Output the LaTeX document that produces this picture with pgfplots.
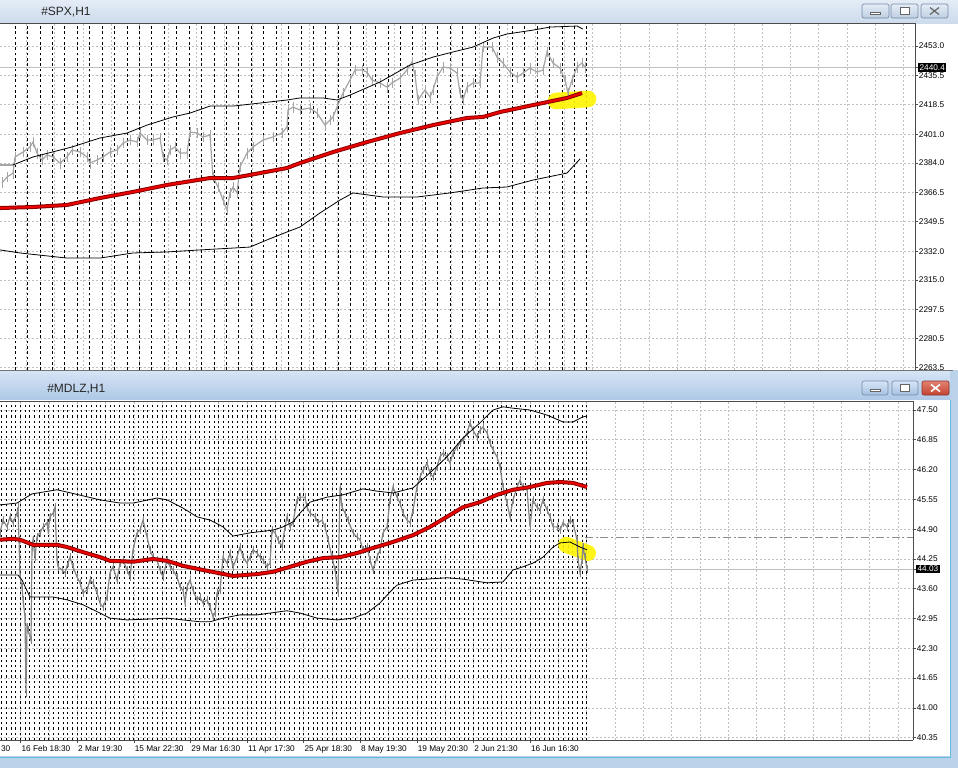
\documentclass[border=0pt]{standalone}
\usepackage{pgfplots}
\pgfplotsset{compat=1.18}
\usepackage{pgfplotstable}
\usepackage{fontspec}
\setmainfont{Liberation Sans}

\definecolor{gridgray}{RGB}{192,192,192}
\definecolor{priceA}{RGB}{165,165,165}
\definecolor{priceB}{RGB}{132,132,132}
\definecolor{maDark}{RGB}{140,0,0}
\definecolor{maRed}{RGB}{235,0,0}
\definecolor{hl}{RGB}{255,244,0}
\definecolor{topA}{RGB}{228,236,246}
\definecolor{topB}{RGB}{205,219,236}
\definecolor{topBtn}{RGB}{190,206,226}
\definecolor{botA}{RGB}{214,228,245}
\definecolor{botB}{RGB}{174,200,231}
\definecolor{botBtnA}{RGB}{215,229,245}
\definecolor{botBtnB}{RGB}{165,193,226}
\definecolor{frameBlue}{RGB}{187,210,235}
\definecolor{frameCyan}{RGB}{100,185,225}
\definecolor{btnEdge}{RGB}{118,138,166}
\definecolor{closeA}{RGB}{226,130,112}
\definecolor{closeB}{RGB}{196,68,50}
\definecolor{closeEdge}{RGB}{140,50,40}

% ---------------- #SPX data (price, bands, moving average) ----------------
\pgfplotstableread{
x y
2 2372.3
7 2375.8
13 2378.1
15 2387.6
23 2390.5
30 2393.5
33 2396.4
37 2389.9
42 2385.8
47 2388.8
53 2387.6
60 2384.0
67 2387.6
72 2391.7
80 2390.5
87 2387.6
90 2384.0
97 2385.8
103 2387.6
110 2390.5
117 2391.7
123 2395.8
130 2397.6
137 2396.4
140 2401.7
147 2397.6
153 2397.6
160 2398.8
163 2387.6
167 2385.8
170 2391.7
175 2393.5
180 2389.9
187 2389.9
190 2402.3
197 2401.7
203 2399.4
210 2400.5
213 2375.8
218 2369.9
223 2362.2
227 2356.3
230 2366.4
233 2369.9
237 2366.4
240 2381.7
247 2389.9
253 2393.5
263 2397.6
273 2399.4
282 2401.7
287 2405.3
288 2415.3
293 2417.0
300 2415.3
310 2416.5
317 2413.5
325 2406.4
330 2409.4
333 2411.2
337 2417.0
343 2425.3
350 2433.0
355 2438.9
362 2438.9
367 2437.7
372 2433.0
380 2431.2
387 2428.8
392 2431.2
400 2434.1
407 2438.9
412 2443.6
415 2435.9
418 2421.2
425 2427.1
430 2422.9
433 2427.1
437 2434.7
443 2440.6
450 2440.0
457 2437.1
460 2425.3
463 2421.2
467 2428.8
473 2431.2
480 2431.2
483 2452.4
492 2452.4
497 2446.5
503 2443.0
510 2437.7
517 2434.7
523 2437.1
530 2440.0
537 2437.7
543 2438.9
547 2449.5
553 2443.0
560 2440.0
565 2433.0
568 2425.3
572 2433.0
577 2440.6
582 2443.0
585 2440.4
}\spxprice

\pgfplotstableread{
x y
0 2382.9
13 2382.9
33 2387.6
72 2393.5
100 2398.8
127 2401.7
147 2406.4
173 2411.2
190 2413.5
210 2417.6
233 2417.6
287 2421.2
300 2422.4
323 2422.4
337 2421.2
350 2424.1
380 2431.8
410 2441.8
433 2446.5
453 2449.5
473 2452.4
493 2457.7
507 2460.1
533 2462.4
550 2464.2
577 2464.8
583 2463.0
}\spxupper

\pgfplotstableread{
x y
0 2357.5
33 2358.1
67 2359.3
100 2363.4
133 2367.0
167 2371.1
210 2375.2
233 2375.2
250 2377.0
287 2381.1
300 2384.0
333 2390.5
367 2396.4
400 2401.7
433 2406.4
467 2410.6
483 2411.2
500 2414.1
533 2418.2
567 2422.4
582 2425.3
}\spxma

\pgfplotstableread{
x y
0 2332.8
20 2331.0
67 2328.0
100 2328.0
133 2331.0
167 2331.6
200 2332.8
233 2333.9
250 2334.5
267 2338.7
287 2343.4
300 2346.3
320 2354.6
340 2362.2
353 2366.4
383 2364.0
417 2364.0
450 2366.4
483 2369.3
507 2369.9
533 2374.0
567 2378.1
580 2386.4
}\spxlower

% ---------------- #MDLZ data ----------------
\pgfplotstableread{
x y
0 44.82
3 45.10
7 44.95
10 45.17
13 45.04
17 45.25
18 45.38
19 44.67
20 43.86
22 43.64
23 43.36
25 42.99
26 41.33
27 42.77
28 42.70
31 42.48
32 44.51
33 44.67
35 44.29
37 44.73
40 44.82
43 44.95
47 45.04
48 44.88
50 45.17
53 45.25
55 45.38
57 44.23
58 44.08
62 44.01
65 43.95
68 44.16
70 44.29
73 44.08
77 43.86
80 43.73
83 43.51
87 43.57
90 43.79
93 43.73
97 43.51
100 43.29
103 43.20
107 43.42
110 43.95
113 44.08
117 43.79
120 44.16
123 44.23
127 44.01
130 43.86
133 44.45
137 44.82
140 44.88
143 45.10
147 44.73
150 44.45
153 44.29
157 44.23
160 44.01
163 43.86
167 44.23
170 44.08
173 44.01
177 43.86
180 43.64
183 43.57
185 43.29
187 43.64
190 43.79
193 43.57
197 43.36
200 43.42
203 43.29
207 43.36
210 43.20
213 42.99
215 43.07
217 43.51
220 43.57
223 44.29
227 44.16
230 44.38
233 44.08
237 44.29
240 44.51
243 44.29
247 44.16
250 44.29
253 44.45
257 44.38
260 44.29
263 44.23
267 44.08
270 44.16
272 44.88
275 44.82
278 44.67
282 44.51
285 44.95
287 45.17
290 44.95
293 45.04
297 45.54
300 45.60
305 45.60
307 45.38
310 45.25
315 45.17
318 45.04
322 45.10
325 44.95
328 44.67
332 44.29
335 44.01
338 43.51
340 45.82
342 45.38
345 45.25
348 45.10
353 44.82
357 44.73
360 44.67
363 44.45
367 44.51
370 44.23
373 44.01
377 44.29
380 44.45
383 44.82
387 44.95
390 45.54
393 45.82
397 45.60
400 45.47
403 45.25
407 45.10
410 45.04
413 45.32
417 45.82
420 46.04
423 46.19
427 46.34
430 46.13
433 46.04
437 46.26
440 46.48
443 46.56
447 46.48
450 46.34
453 46.56
457 46.69
460 46.78
463 46.85
467 47.00
470 47.22
473 47.06
477 46.91
480 47.06
483 47.13
487 47.00
490 46.78
493 46.63
497 46.48
500 46.26
503 45.82
507 45.47
510 45.17
513 45.54
517 45.82
520 45.97
523 45.82
527 45.76
530 44.95
533 45.54
537 45.38
540 45.32
543 45.54
547 45.32
550 45.17
553 44.95
557 44.95
560 44.88
563 45.04
567 44.95
570 45.10
573 45.04
577 44.67
578 44.23
580 43.95
582 44.23
583 44.51
585 44.29
587 44.03
}\mdlzprice

\pgfplotstableread{
x y
0 45.43
17 45.47
32 45.67
57 45.76
67 45.71
100 45.54
120 45.47
133 45.47
157 45.58
167 45.54
183 45.36
197 45.17
210 45.10
223 44.95
233 44.75
250 44.82
273 44.88
283 44.95
293 45.06
300 45.25
310 45.49
327 45.60
343 45.65
363 45.78
377 45.73
393 45.69
413 45.80
430 46.13
447 46.48
463 46.89
480 47.22
493 47.50
503 47.57
513 47.54
530 47.50
547 47.39
563 47.24
573 47.24
583 47.35
587 47.37
}\mdlzupper

\pgfplotstableread{
x y
0 44.67
13 44.69
20 44.67
33 44.56
57 44.56
67 44.51
83 44.40
100 44.29
110 44.21
133 44.19
153 44.25
167 44.21
183 44.10
203 44.01
217 43.95
233 43.88
257 43.92
273 43.97
290 44.08
307 44.19
323 44.27
340 44.29
357 44.38
373 44.49
390 44.60
413 44.77
430 44.95
447 45.17
463 45.38
480 45.49
497 45.65
513 45.76
530 45.82
547 45.91
560 45.93
573 45.91
587 45.82
}\mdlzma

\pgfplotstableread{
x y
0 43.90
18 43.90
22 43.79
30 43.42
53 43.42
67 43.36
83 43.25
100 43.07
110 42.96
127 42.92
150 42.94
167 42.96
183 42.92
200 42.88
210 42.88
223 42.96
240 43.03
257 43.03
270 43.07
287 43.12
300 43.07
317 42.96
337 42.92
353 42.96
367 43.07
380 43.29
390 43.53
397 43.68
413 43.79
447 43.84
463 43.81
487 43.73
503 43.75
513 44.01
523 44.08
533 44.16
543 44.29
553 44.51
560 44.60
570 44.62
580 44.51
587 44.45
}\mdlzlower

\pgfplotsset{
  mtchart/.style={
    scale only axis, anchor=north west, xmin=0,
    axis x line*=bottom, axis y line*=right,
    axis line style={-, black!70, line width=0.6pt},
    grid=major,
    major grid style={gridgray, dash pattern=on 1.5pt off 1.5pt, line width=0.5pt},
    minor grid style={gridgray, dash pattern=on 1.5pt off 1.5pt, line width=0.5pt},
    tick align=outside, major tick length=2.25pt, minor tick length=0pt,
    tick style={black!70, line width=0.5pt},
    ticklabel style={font=\fontsize{6.2}{7}\selectfont, text=black},
    yticklabel style={anchor=west, inner sep=0.5pt},
    extra x tick labels={},
    extra x tick style={major tick length=0pt,
      major grid style={black, dash pattern=on 2pt off 2pt, line width=0.5pt}},
    extra y tick style={
      major grid style={black!25, solid, line width=0.5pt},
      yticklabel style={fill=black, text=white, inner sep=1pt}},
  },
  bandline/.style={black, line width=0.6pt},
}

\begin{document}
\begin{tikzpicture}
\path[use as bounding box] (0,0) rectangle (718.5pt,-576pt);
\fill[white] (0,0) rectangle (718.5pt,-576pt);

% ================= top window: #SPX,H1 =================
\begin{axis}[mtchart,
  at={(0pt,-18pt)}, width=686.25pt, height=259.5pt,
  xmax=915, ymin=2262, ymax=2466,
  xtick={26.4,54.7,...,915}, xticklabels={}, major x tick style={draw=none},
  ytick={2263.5,2280.5,2297.5,2315.0,2332.0,2349.5,2366.5,2384.0,2401.0,2418.5,2435.5,2453.0},
  yticklabels={2263.5,2280.5,2297.5,2315.0,2332.0,2349.5,2366.5,2384.0,2401.0,2418.5,2435.5,2453.0},
  extra x ticks={15,27.43,...,586},
  extra y ticks={2440.4}, extra y tick labels={2440.4},
]
\addplot[hl, opacity=0.9, line width=12.5pt, line cap=round] coordinates {(556,2420.6) (588,2421.8)};
\addplot[priceA, line width=0.9pt, error bars/.cd, y dir=both, y fixed=3.2,
  error mark=none, error bar style={priceA, line width=0.7pt}] table {\spxprice};
\addplot[bandline] table {\spxupper};
\addplot[bandline] table {\spxlower};
\addplot[maDark, line width=3pt] table {\spxma};
\addplot[maRed, line width=1.5pt] table {\spxma};
\end{axis}

\begin{scope}[x=0.75pt, y=-0.75pt]
  \shade[top color=topA, bottom color=topB] (0,0) rectangle (958,23);
  \draw[black!70, line width=0.75pt] (0,23.5) -- (915.5,23.5);
  \node[anchor=west, inner sep=0pt, font=\fontsize{9}{10}\selectfont, text=black!85] at (41,12) {\#SPX,H1};
  \foreach \bx in {862,891,921}{
    \shade[top color=topA, bottom color=topBtn, draw=btnEdge, rounded corners=1.5pt, line width=0.5pt] (\bx,4) rectangle (\bx+27,18);
  }
  \draw[black!60, fill=white, line width=0.5pt] (870,12) rectangle (880,14.5);
  \draw[black!60, fill=white, line width=0.5pt] (900,7.5) rectangle (909,14.5);
  \draw[black!60, line width=0.9pt] (930,7.5) -- (939,14.5) (930,14.5) -- (939,7.5);

  % ================= bottom window frame =================
  \fill[frameBlue] (0,370) rectangle (958,768);
  \draw[black!55, line width=0.6pt] (0,370.5) -- (953,370.5);
  \shade[top color=botA, bottom color=botB] (0,371) rectangle (950,400);
  \fill[white] (0,400) rectangle (950,756);
  \draw[black!70, line width=0.75pt] (0,401.5) -- (913.5,401.5);
  \draw[frameCyan, line width=0.75pt] (0,757.5) -- (950,757.5) -- (950,400);
  \node[anchor=west, inner sep=0pt, font=\fontsize{9}{10}\selectfont, text=black!85] at (47,389) {\#MDLZ,H1};
  \foreach \bx in {862,892}{
    \shade[top color=botBtnA, bottom color=botBtnB, draw=btnEdge, rounded corners=1.5pt, line width=0.5pt] (\bx,381) rectangle (\bx+26,395);
  }
  \shade[top color=closeA, bottom color=closeB, draw=closeEdge, rounded corners=1.5pt, line width=0.5pt] (922,381) rectangle (949,395);
  \draw[black!60, fill=white, line width=0.5pt] (870,389) rectangle (880,391.5);
  \draw[black!60, fill=white, line width=0.5pt] (900,384.5) rectangle (909,391.5);
  \draw[white, line width=1.2pt] (931,384.5) -- (940,391.5) (931,391.5) -- (940,384.5);
  \node[anchor=east, inner sep=0pt, font=\fontsize{6.2}{7}\selectfont] at (10.5,749) {30};
\end{scope}

% ================= bottom window: #MDLZ,H1 =================
\begin{axis}[mtchart,
  at={(0pt,-301.5pt)}, width=684.75pt, height=253.5pt,
  xmax=913, ymin=40.30, ymax=47.675,
  xtick={20.7,77.3,133.9,190.5,247.1,303.7,360.3,416.9,473.5,530.1},
  minor xtick={49.0,105.6,162.2,218.8,275.4,332.0,388.6,445.2,501.8,558.4,586.7,615.0,643.3,671.6,699.9,728.2,756.5,784.8,813.1,841.4,869.7,898.0},
  xticklabels={16 Feb 18:30,2 Mar 19:30,15 Mar 22:30,29 Mar 16:30,11 Apr 17:30,25 Apr 18:30,8 May 19:30,19 May 20:30,2 Jun 21:30,16 Jun 16:30},
  xticklabel style={anchor=north west, inner sep=0pt, xshift=0.5pt, yshift=-1.5pt},
  xminorgrids=true,
  ytick={40.35,41.00,41.65,42.30,42.95,43.60,44.25,44.90,45.55,46.20,46.85,47.50},
  yticklabels={40.35,41.00,41.65,42.30,42.95,43.60,44.25,44.90,45.55,46.20,46.85,47.50},
  extra x ticks={1.5,6.22,...,588},
  extra x tick style={major tick length=0pt,
    major grid style={black, dash pattern=on 1.7pt off 2.2pt, line width=0.5pt}},
  extra y ticks={44.03}, extra y tick labels={44.03},
]
\addplot[hl, opacity=0.9, line width=12pt, line cap=round] coordinates {(566,44.56) (588,44.38)};
\addplot[black!45, line width=0.7pt, dash pattern=on 6pt off 2pt on 1.5pt off 2pt] coordinates {(585,44.71) (913,44.71)};
\addplot[priceB, line width=0.9pt, error bars/.cd, y dir=both, y fixed=0.09,
  error mark=none, error bar style={priceB, line width=0.7pt}] table {\mdlzprice};
\addplot[bandline] table {\mdlzupper};
\addplot[bandline] table {\mdlzlower};
\addplot[maDark, line width=3pt] table {\mdlzma};
\addplot[maRed, line width=1.5pt] table {\mdlzma};
\end{axis}
\end{tikzpicture}
\end{document}
